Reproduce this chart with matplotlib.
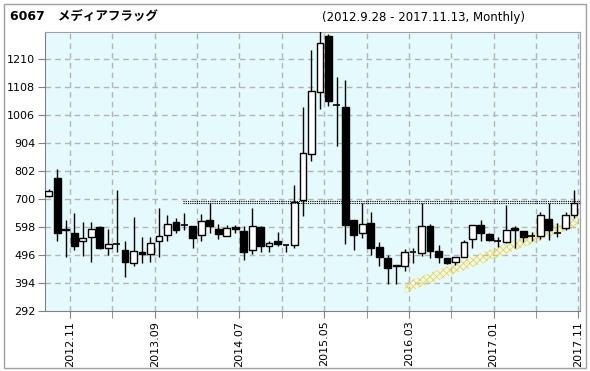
import numpy as np
import pandas as pd
import matplotlib
matplotlib.use("Agg")
import matplotlib.pyplot as plt
from matplotlib.patches import Rectangle

plt.rcParams['font.family'] = ['DejaVu Sans', 'Noto Sans CJK JP']
plt.rcParams['hatch.linewidth'] = 0.6

# monthly candles 2012.09 .. 2017.11
months = pd.period_range("2012-09", "2017-11", freq="M")
opens = [711, 775, 590, 574, 548, 563, 599, 523, 534, 513, 468, 508, 501, 545, 570, 617,
         605, 602, 568, 623, 590, 565, 598, 584, 513, 598, 530, 548, 532, 531, 696, 862,
         1089, 1291, 1043, 1035, 623, 575, 613, 525, 486, 458, 455, 508, 503, 602, 511, 484,
         469, 490, 553, 605, 572, 548, 543, 594, 583, 564, 566, 627, 575, 593, 642]
highs = [735, 808, 622, 650, 614, 614, 600, 590, 732, 546, 633, 563, 563, 666, 643, 632,
         649, 602, 646, 685, 608, 606, 604, 600, 665, 600, 548, 580, 537, 749, 1034, 1240,
         1316, 1300, 1142, 1131, 623, 685, 652, 542, 496, 459, 516, 521, 686, 609, 533, 484,
         488, 551, 605, 624, 576, 560, 676, 603, 583, 580, 653, 686, 613, 652, 731]
lows = [708, 547, 489, 514, 492, 471, 519, 496, 507, 416, 456, 468, 471, 490, 545, 576,
        588, 523, 546, 576, 554, 565, 574, 476, 499, 505, 508, 530, 508, 520, 636, 838,
        1026, 1037, 893, 537, 515, 557, 496, 456, 391, 389, 439, 465, 493, 483, 465, 462,
        460, 487, 523, 545, 548, 525, 539, 523, 544, 548, 555, 551, 560, 585, 631]
closes = [727, 576, 585, 529, 559, 592, 522, 537, 534, 471, 512, 500, 541, 566, 609, 588,
          605, 557, 618, 601, 572, 594, 591, 505, 601, 527, 540, 534, 532, 689, 865, 1093,
          1266, 1055, 1043, 606, 570, 607, 522, 489, 447, 454, 506, 510, 602, 512, 487, 465,
          488, 543, 605, 576, 549, 548, 587, 587, 562, 564, 640, 588, 575, 642, 684]

y_ticks = [292, 394, 496, 598, 700, 802, 904, 1006, 1108, 1210]
label_months = ["2012.11", "2013.09", "2014.07", "2015.05", "2016.03", "2017.01", "2017.11"]

# resistance line and rising channel
resist_start = 15.8
resist_levels = [686, 692]
channel_x = [42.0, 62.5]
channel_mid = [376, 620]
channel_half = 19

fig = plt.figure(figsize=(5.9, 3.71), dpi=100)
ax = fig.add_axes([45 / 590, 1 - 311 / 371, 535 / 590, 279 / 371])
ax.set_facecolor('#e5fafc')

x = np.arange(len(months))
w = 0.8
for i in x:
    o, h, l, c = opens[i], highs[i], lows[i], closes[i]
    top, bot = max(o, c), min(o, c)
    ax.vlines(i, top, h, color='black', lw=1, zorder=3)
    ax.vlines(i, l, bot, color='black', lw=1, zorder=3)
    if top - bot < 3:
        ax.hlines(o, i - w / 2, i + w / 2, color='black', lw=1.2, zorder=4)
    else:
        fc = 'white' if c > o else 'black'
        ax.add_patch(Rectangle((i - w / 2, bot), w, top - bot, facecolor=fc,
                               edgecolor='black', lw=1, zorder=4))

for lv in resist_levels:
    ax.plot([resist_start, 63], [lv, lv], color='black', lw=0.8, ls=(0, (1, 1)), zorder=5)

cx = np.array(channel_x)
cm = np.array(channel_mid)
ax.fill_between(cx, cm - channel_half, cm + channel_half, facecolor='none',
                edgecolor='#f5d23c', hatch='xxxxx', lw=0, zorder=2)

# x ticks at month boundaries
lab_idx = [list(months.strftime('%Y.%m')).index(m) for m in label_months]
major = [k + 0.5 for k in lab_idx]
minor = [k + 5 for k in major[:-1]]
ax.set_xticks(major)
ax.set_xticklabels(label_months, rotation=90, fontsize=8)
ax.set_xticks(minor, minor=True)
for gx in major + minor:
    ax.axvline(gx, color='#b4b4b4', lw=1, ls=(0, (4, 3)), zorder=1)

ax.set_yticks(y_ticks)
ax.set_yticklabels([str(v) for v in y_ticks], fontsize=8)
for gy in y_ticks[1:]:
    ax.axhline(gy, color='#b4b4b4', lw=1, ls=(0, (4, 3)), zorder=1)

ax.set_xlim(-0.45, 62.7)
ax.set_ylim(292, 1307)
ax.tick_params(axis='both', which='both', direction='out', length=5, color='#808080', pad=2)
for s in ax.spines.values():
    s.set_color('#a0a0a0')
ax.spines['left'].set_color('#808080')
ax.spines['bottom'].set_color('#808080')

fig.text(10 / 590, 1 - 16 / 371, "6067   メディアフラッグ", fontsize=9, fontweight='bold',
         va='center', ha='left')
fig.text(322 / 590, 1 - 18 / 371, "(2012.9.28 - 2017.11.13, Monthly)", fontsize=8.5,
         va='center', ha='left')
fig.add_artist(Rectangle((4 / 590, 3 / 371), 582 / 590, 364 / 371, transform=fig.transFigure,
                         facecolor='none', edgecolor='#a0a0a0', lw=1))

fig.savefig("out.png", dpi=100)
